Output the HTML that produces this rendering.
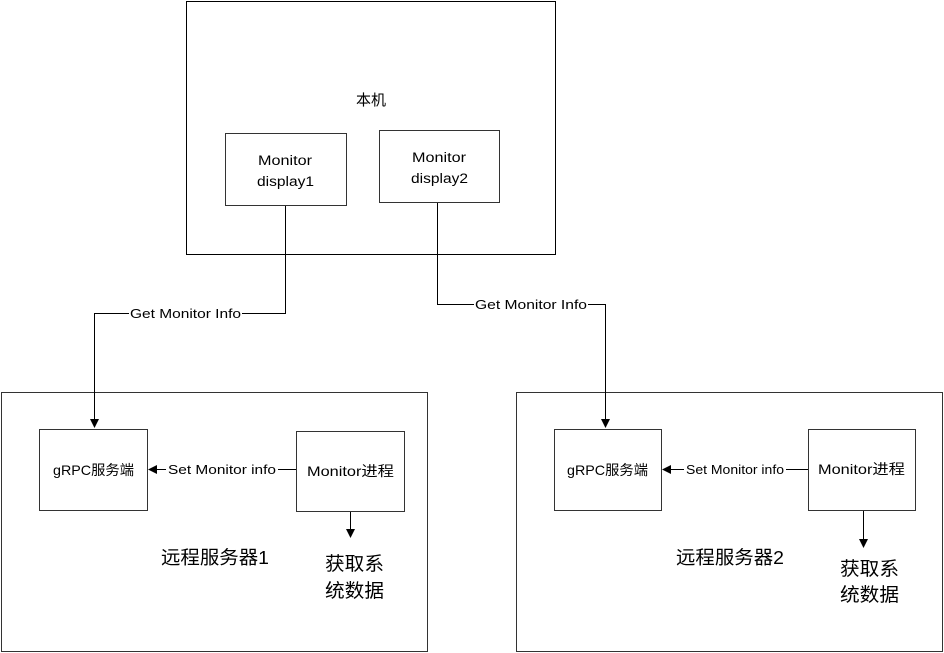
<!DOCTYPE html>
<html><head><meta charset="utf-8"><style>
html,body{margin:0;padding:0;background:#fff;}
svg{display:block;}
text{font-family:"Liberation Sans","Noto Sans CJK SC",sans-serif;fill:#000;}
</style></head><body>
<svg width="944" height="653" viewBox="0 0 944 653" xmlns="http://www.w3.org/2000/svg">
<g fill="none" stroke="#000" stroke-width="1">
<rect x="186.5" y="1.5" width="369" height="253"/>
<rect x="225.5" y="133.5" width="121" height="72" stroke="#333"/>
<rect x="379.5" y="130.5" width="120" height="72" stroke="#333"/>
<rect x="1.5" y="392.5" width="426" height="259" stroke="#333"/>
<rect x="516.5" y="392.5" width="426" height="259" stroke="#333"/>
<rect x="39.5" y="429.5" width="108" height="81" stroke="#333"/>
<rect x="296.5" y="431.5" width="108" height="80" stroke="#333"/>
<rect x="554.5" y="429.5" width="107" height="81" stroke="#333"/>
<rect x="808.5" y="429.5" width="107" height="81" stroke="#333"/>
<polyline points="285.5,206 285.5,313.5 94.5,313.5 94.5,420"/>
<polyline points="437.5,203 437.5,304.5 605.5,304.5 605.5,420"/>
<line x1="296" y1="469.5" x2="156" y2="469.5"/>
<line x1="808" y1="469.5" x2="670" y2="469.5"/>
<line x1="350.5" y1="512" x2="350.5" y2="530"/>
<line x1="863.5" y1="511" x2="863.5" y2="540"/>
</g>
<g fill="#000">
<polygon points="90,419 99,419 94.5,428"/>
<polygon points="601,419 610,419 605.5,428"/>
<polygon points="157,465 157,474 148,469.5"/>
<polygon points="671,465 671,474 662,469.5"/>
<polygon points="346,529 355,529 350.5,538"/>
<polygon points="859,539 868,539 863.5,548"/>
</g>
<g fill="#fff">
<rect x="129" y="306" width="113" height="15"/>
<rect x="474" y="297" width="114" height="15"/>
<rect x="166" y="462" width="112" height="15"/>
<rect x="684" y="462" width="102" height="15"/>
</g>
<text x="356" y="105" font-size="15" textLength="30" lengthAdjust="spacingAndGlyphs">本机</text>
<text x="258" y="165" font-size="13.5" textLength="54" lengthAdjust="spacingAndGlyphs">Monitor</text>
<text x="257" y="186" font-size="13.5" textLength="57" lengthAdjust="spacingAndGlyphs">display1</text>
<text x="412" y="162" font-size="13.5" textLength="54" lengthAdjust="spacingAndGlyphs">Monitor</text>
<text x="411" y="183" font-size="13.5" textLength="57" lengthAdjust="spacingAndGlyphs">display2</text>
<text x="130" y="318" font-size="13" textLength="111" lengthAdjust="spacingAndGlyphs">Get Monitor Info</text>
<text x="475" y="309" font-size="13" textLength="112" lengthAdjust="spacingAndGlyphs">Get Monitor Info</text>
<text x="53" y="475" font-size="14" textLength="81" lengthAdjust="spacingAndGlyphs">gRPC服务端</text>
<text x="567" y="475" font-size="14" textLength="81" lengthAdjust="spacingAndGlyphs">gRPC服务端</text>
<text x="168" y="474" font-size="13" textLength="108" lengthAdjust="spacingAndGlyphs">Set Monitor info</text>
<text x="686" y="474" font-size="12.5" textLength="98" lengthAdjust="spacingAndGlyphs">Set Monitor info</text>
<text x="307" y="476" font-size="14" textLength="87" lengthAdjust="spacingAndGlyphs">Monitor进程</text>
<text x="818" y="474" font-size="14" textLength="87" lengthAdjust="spacingAndGlyphs">Monitor进程</text>
<text x="161" y="564" font-size="18.5" textLength="108" lengthAdjust="spacingAndGlyphs">远程服务器1</text>
<text x="676" y="564" font-size="18.5" textLength="108" lengthAdjust="spacingAndGlyphs">远程服务器2</text>
<text x="325" y="570" font-size="19" textLength="59" lengthAdjust="spacingAndGlyphs">获取系</text>
<text x="325" y="597" font-size="19" textLength="59" lengthAdjust="spacingAndGlyphs">统数据</text>
<text x="840" y="575" font-size="19" textLength="59" lengthAdjust="spacingAndGlyphs">获取系</text>
<text x="840" y="601" font-size="19" textLength="59" lengthAdjust="spacingAndGlyphs">统数据</text>
</svg>
</body></html>
